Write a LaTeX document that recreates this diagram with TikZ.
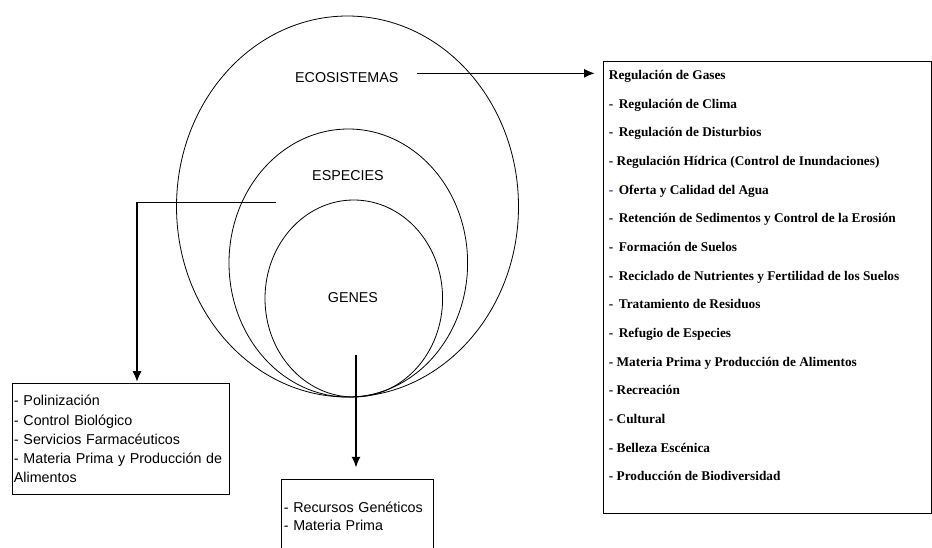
\documentclass[tikz,border=0pt]{standalone}
\usepackage{fontspec}
\setmainfont{Liberation Serif}
\setsansfont{Liberation Sans}
\usetikzlibrary{arrows.meta,shapes.geometric,positioning}
\definecolor{dashblue}{RGB}{30,30,190}

\tikzset{
  level/.style={draw, ellipse, line width=0.8pt, inner sep=0pt},
  levellabel/.style={font=\sffamily\fontsize{14.3}{17}\selectfont, inner sep=0pt},
  svcbox/.style={draw, line width=0.9pt, anchor=north west, align=left,
    font=\sffamily\fontsize{14.3}{19.3}\selectfont},
  svcline/.style={anchor=base west, inner sep=0pt,
    font=\bfseries\fontsize{13.3}{16}\selectfont},
  conn/.style={line width=1.1pt, ->},
}

\begin{document}
\begin{tikzpicture}[x=1pt, y=-1pt, >={Latex[length=10.5pt,width=9pt]}]
\useasboundingbox (0,0) rectangle (932,547);
\clip (0,0) rectangle (932,547);

% levels
\node[level, minimum width=342pt, minimum height=381pt] (eco) at (347.5,206.5) {};
\node[level, minimum width=238.6pt, minimum height=268pt] (esp) at (348.3,263) {};
\node[level, minimum width=177.6pt, minimum height=197pt] (gen) at (353.8,298.5) {};

\node[levellabel] (ecolbl) at (346.8,77.7) {ECOSISTEMAS};
\node[levellabel] (esplbl) at (348,175.7) {ESPECIES};
\node[levellabel] (genlbl) at (353,298) {GENES};

% boxes
\node[svcbox, minimum width=217.6pt, minimum height=110.7pt, text width=214pt,
  inner xsep=1.8pt] (espbox) at (11.7,383.3)
  {- Polinización\\- Control Biológico\\- Servicios Farmacéuticos\\- Materia Prima y Producción de\\Alimentos};

\node[svcbox, text width=147pt, inner xsep=2.3pt, inner ysep=22pt,
  font=\sffamily\fontsize{14.3}{18.3}\selectfont] (genbox) at (281,479.3)
  {- Recursos Genéticos\\- Materia Prima};

\node[draw, line width=0.9pt, anchor=north west, minimum width=328.3pt,
  minimum height=451.7pt, inner sep=0pt] (ecobox) at (603,61) {};

% ecosystem services
\node[svcline] (s1) at (608.7,79.6) {Regulación de Gases};
\node[svcline] (s2) at (608.7,108.25) {-\ \,Regulación de Clima};
\node[svcline] (s3) at (608.7,136.9) {-\ \,Regulación de Disturbios};
\node[svcline] (s4) at (608.7,165.55) {- Regulación Hídrica (Control de Inundaciones)};
\node[svcline] (s5) at (608.7,194.2) {\textcolor{dashblue}{-}\ \,Oferta y Calidad del Agua};
\node[svcline] (s6) at (608.7,222.85) {-\ \,Retención de Sedimentos y Control de la Erosión};
\node[svcline] (s7) at (608.7,251.5) {-\ \,Formación de Suelos};
\node[svcline] (s8) at (608.7,280.15) {-\ \,Reciclado de Nutrientes y Fertilidad de los Suelos};
\node[svcline] (s9) at (608.7,308.8) {-\ \,Tratamiento de Residuos};
\node[svcline] (s10) at (608.7,337.45) {-\ \,Refugio de Especies};
\node[svcline] (s11) at (608.7,366.1) {- Materia Prima y Producción de Alimentos};
\node[svcline] (s12) at (608.7,394.75) {- Recreación};
\node[svcline] (s13) at (608.7,423.4) {- Cultural};
\node[svcline] (s14) at (608.7,452.05) {- Belleza Escénica};
\node[svcline] (s15) at (608.7,480.7) {- Producción de Biodiversidad};

% connectors
\coordinate (ecostart) at (416.7,73.3);
\draw[conn, shorten >=8.4pt] (ecostart) -- (ecostart -| ecobox.west);

\coordinate (espstart) at (275.7,202.7);
\coordinate (espbend) at (137,202.7);
\draw[conn, shorten >=1.6pt] (espstart) -- (espbend) -- (espbend |- espbox.north);

\coordinate (genstart) at (356,355);
\draw[conn, shorten >=12pt] (genstart) -- (genstart |- genbox.north);

\end{tikzpicture}
\end{document}
